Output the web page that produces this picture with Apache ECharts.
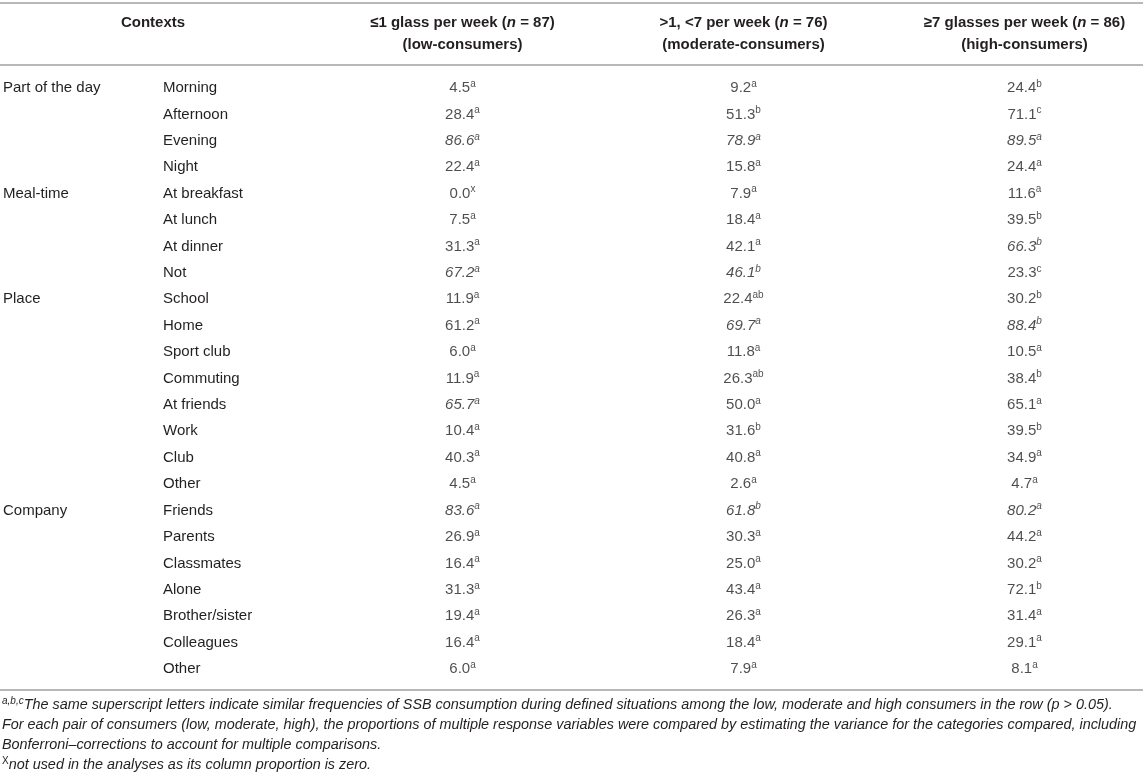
<!DOCTYPE html>
<html>
<head>
<meta charset="utf-8">
<title>SSB consumption contexts</title>
<script src="https://cdn.jsdelivr.net/npm/echarts@6.0.0/dist/echarts.min.js"></script>
<style>
  html, body { margin: 0; padding: 0; background: #fff; }
  #main { width: 1143px; height: 780px; }
</style>
</head>
<body>
<div id="main"></div>
<script>
// table data
const groups = ['Part of the day', 'Meal-time', 'Place', 'Company'];
const groupSizes = [4, 4, 8, 7];
const contexts = [
  'Morning', 'Afternoon', 'Evening', 'Night',
  'At breakfast', 'At lunch', 'At dinner', 'Not',
  'School', 'Home', 'Sport club', 'Commuting', 'At friends', 'Work', 'Club', 'Other',
  'Friends', 'Parents', 'Classmates', 'Alone', 'Brother/sister', 'Colleagues', 'Other'
];
const columns = ['low', 'moderate', 'high'];
const headTitles = ['≤1 glass per week', '>1, <7 per week', '≥7 glasses per week'];
const headN = [87, 76, 86];
const headSub = ['(low-consumers)', '(moderate-consumers)', '(high-consumers)'];

const low = [4.5, 28.4, 86.6, 22.4, 0.0, 7.5, 31.3, 67.2, 11.9, 61.2, 6.0, 11.9, 65.7, 10.4, 40.3, 4.5,
  83.6, 26.9, 16.4, 31.3, 19.4, 16.4, 6.0];
const lowSup = ['a', 'a', 'a', 'a', 'x', 'a', 'a', 'a', 'a', 'a', 'a', 'a', 'a', 'a', 'a', 'a',
  'a', 'a', 'a', 'a', 'a', 'a', 'a'];
const moderate = [9.2, 51.3, 78.9, 15.8, 7.9, 18.4, 42.1, 46.1, 22.4, 69.7, 11.8, 26.3, 50.0, 31.6, 40.8, 2.6,
  61.8, 30.3, 25.0, 43.4, 26.3, 18.4, 7.9];
const moderateSup = ['a', 'b', 'a', 'a', 'a', 'a', 'a', 'b', 'ab', 'a', 'a', 'ab', 'a', 'b', 'a', 'a',
  'b', 'a', 'a', 'a', 'a', 'a', 'a'];
const high = [24.4, 71.1, 89.5, 24.4, 11.6, 39.5, 66.3, 23.3, 30.2, 88.4, 10.5, 38.4, 65.1, 39.5, 34.9, 4.7,
  80.2, 44.2, 30.2, 72.1, 31.4, 29.1, 8.1];
const highSup = ['b', 'c', 'a', 'a', 'a', 'b', 'b', 'c', 'b', 'b', 'a', 'b', 'a', 'b', 'a', 'a',
  'a', 'a', 'a', 'b', 'a', 'a', 'a'];
// row indexes printed in italics, per column
const lowItalic = [2, 7, 12, 16];
const moderateItalic = [2, 7, 9, 16];
const highItalic = [2, 6, 9, 16];

const values = [low, moderate, high];
const sups = [lowSup, moderateSup, highSup];
const italics = [lowItalic, moderateItalic, highItalic];

const FONT = '"Liberation Sans", Arial, Helvetica, sans-serif';
const INK = '#231f20';

// first row of each group gets the group name
const groupAt = {};
let r = 0;
groups.forEach((g, i) => { groupAt[r] = g; r += groupSizes[i]; });

const cellRich = {
  n: { fontFamily: FONT, fontSize: 15, lineHeight: 18, color: INK },
  ni: { fontFamily: FONT, fontSize: 15, lineHeight: 18, color: INK, fontStyle: 'italic' },
  s: { fontFamily: FONT, fontSize: 10, lineHeight: 10, color: INK, verticalAlign: 'top' },
  si: { fontFamily: FONT, fontSize: 10, lineHeight: 10, color: INK, verticalAlign: 'top', fontStyle: 'italic' }
};

const series = columns.map((c, k) => ({
  name: c,
  type: 'scatter',
  xAxisIndex: 0,
  yAxisIndex: 0,
  symbolSize: 0,
  silent: true,
  animation: false,
  data: values[k].map((v, i) => [k, i, v]),
  label: {
    show: true,
    position: 'inside',
    formatter: p => {
      const i = p.dataIndex;
      const it = italics[k].indexOf(i) >= 0;
      return '{' + (it ? 'ni' : 'n') + '|' + values[k][i].toFixed(1) + '}' +
             '{' + (it ? 'si' : 's') + '|' + sups[k][i] + '}';
    },
    rich: cellRich
  }
}));

const chart = echarts.init(document.getElementById('main'));

const ruleStyle = { stroke: '#b8b8b8', lineWidth: 2 };
const noteY = [705, 725, 745, 765];
const noteFont = 'italic 14.4px ' + FONT;

chart.setOption({
  backgroundColor: '#fff',
  animation: false,
  grid: { left: 322, right: -22, top: 74.8, bottom: 97.8, outerBoundsMode: 'none' },
  xAxis: {
    type: 'category',
    position: 'top',
    data: columns,
    axisLine: { show: false },
    axisTick: { show: false },
    splitLine: { show: false },
    axisLabel: {
      interval: 0,
      margin: 19,
      formatter: (v, i) => '{b|' + headTitles[i] + ' (}{bi|n}{b| = ' + headN[i] + ')}\n{b|' + headSub[i] + '}',
      rich: {
        b: { fontFamily: FONT, fontSize: 15, fontWeight: 'bold', lineHeight: 22, color: INK },
        bi: { fontFamily: FONT, fontSize: 15, fontWeight: 'bold', fontStyle: 'italic', lineHeight: 22, color: INK }
      }
    }
  },
  yAxis: [
    {
      type: 'category',
      inverse: true,
      position: 'left',
      data: contexts.map((c, i) => i),
      axisLine: { show: false },
      axisTick: { show: false },
      splitLine: { show: false },
      axisLabel: {
        interval: 0,
        align: 'left',
        margin: 159,
        fontFamily: FONT,
        fontSize: 15,
        color: INK,
        formatter: (v, i) => contexts[i]
      }
    },
    {
      type: 'category',
      inverse: true,
      position: 'left',
      data: contexts.map((c, i) => i),
      axisLine: { show: false },
      axisTick: { show: false },
      splitLine: { show: false },
      axisLabel: {
        interval: 0,
        align: 'left',
        margin: 319,
        fontFamily: FONT,
        fontSize: 15,
        color: INK,
        formatter: (v, i) => groupAt[i] || ''
      }
    }
  ],
  series: series,
  graphic: [
    { type: 'line', shape: { x1: 0, y1: 3, x2: 1143, y2: 3 }, style: ruleStyle, silent: true },
    { type: 'line', shape: { x1: 0, y1: 65, x2: 1143, y2: 65 }, style: ruleStyle, silent: true },
    { type: 'line', shape: { x1: 0, y1: 690, x2: 1143, y2: 690 }, style: ruleStyle, silent: true },
    {
      type: 'text', x: 153, y: 23, silent: true,
      style: { text: 'Contexts', font: 'bold 15px ' + FONT, fill: INK, align: 'center', verticalAlign: 'middle' }
    },
    {
      type: 'text', x: 2, y: noteY[0], silent: true,
      style: {
        text: '{s|a,b,c}{t|The same superscript letters indicate similar frequencies of SSB consumption during defined situations among the low, moderate and high consumers in the row (p > 0.05).}',
        verticalAlign: 'middle',
        rich: {
          s: { fontFamily: FONT, fontSize: 10, lineHeight: 10, fontStyle: 'italic', fill: INK, verticalAlign: 'top' },
          t: { fontFamily: FONT, fontSize: 14.4, lineHeight: 18, fontStyle: 'italic', fill: INK }
        }
      }
    },
    {
      type: 'text', x: 2, y: noteY[1], silent: true,
      style: {
        text: 'For each pair of consumers (low, moderate, high), the proportions of multiple response variables were compared by estimating the variance for the categories compared, including',
        font: noteFont, fill: INK, verticalAlign: 'middle'
      }
    },
    {
      type: 'text', x: 2, y: noteY[2], silent: true,
      style: {
        text: 'Bonferroni–corrections to account for multiple comparisons.',
        font: noteFont, fill: INK, verticalAlign: 'middle'
      }
    },
    {
      type: 'text', x: 2, y: noteY[3], silent: true,
      style: {
        text: '{s|X}{t|not used in the analyses as its column proportion is zero.}',
        verticalAlign: 'middle',
        rich: {
          s: { fontFamily: FONT, fontSize: 10, lineHeight: 10, fill: INK, verticalAlign: 'top' },
          t: { fontFamily: FONT, fontSize: 14.4, lineHeight: 18, fontStyle: 'italic', fill: INK }
        }
      }
    }
  ]
});
</script>
</body>
</html>
